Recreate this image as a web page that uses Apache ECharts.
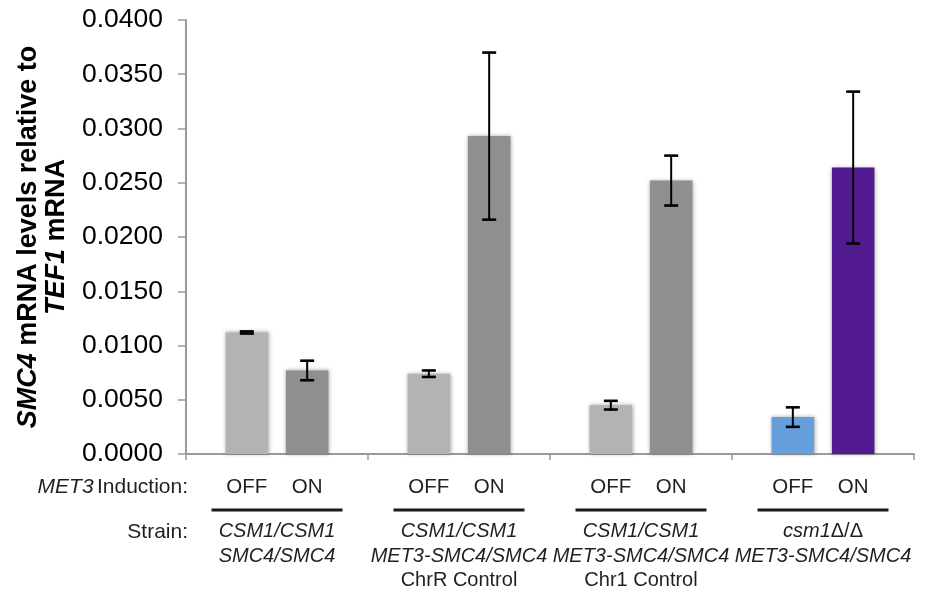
<!DOCTYPE html>
<html>
<head>
<meta charset="utf-8">
<script src="https://cdn.jsdelivr.net/npm/echarts@6/dist/echarts.min.js"></script>
<style>
  html, body { margin: 0; padding: 0; background: #ffffff; }
  #chart { width: 935px; height: 595px; }
</style>
</head>
<body>
<div id="chart"></div>
<script>
// ---- data ----
var groups = ['g1', 'g2', 'g3', 'g4'];
var inductionLabels = ['OFF', 'ON'];
var strainLines = [
  ['CSM1/CSM1', 'SMC4/SMC4'],
  ['CSM1/CSM1', 'MET3-SMC4/SMC4', 'ChrR Control'],
  ['CSM1/CSM1', 'MET3-SMC4/SMC4', 'Chr1 Control'],
  ['csm1\u0394/\u0394', 'MET3-SMC4/SMC4']
];
var offValues = [0.0112, 0.0074, 0.0045, 0.0034];
var offErrors = [0.0001, 0.0003, 0.0004, 0.0009];
var onValues  = [0.0077, 0.0293, 0.0252, 0.0264];
var onErrors  = [0.0009, 0.0077, 0.0023, 0.0070];
var yTicks = [0, 0.005, 0.01, 0.015, 0.02, 0.025, 0.03, 0.035, 0.04];

// ---- styles ----
var offColors = ['#b3b3b3', '#b3b3b3', '#b3b3b3', '#66a0dc'];
var onColors  = ['#8f8f8f', '#8f8f8f', '#8f8f8f', '#521b92'];
var FONT = '"Liberation Sans", Arial, Helvetica, sans-serif';
var TXT = '#231f20';
var BAR_W = 42.5;
var BAR_GAP = '42%';
var PITCH = BAR_W * 1.42;

var chart = echarts.init(document.getElementById('chart'), null, { renderer: 'canvas' });

function strainRich(line) {
  if (/Control$/.test(line)) return '{sn|' + line + '}';
  var m = line.match(/^(csm1)(.*)$/);
  if (m) return '{si|' + m[1] + '}{sn|' + m[2] + '}';
  return '{si|' + line + '}';
}

function errData(values, errors, side) {
  return values.map(function (v, i) { return [i, v, errors[i], side]; });
}

function renderErr(params, api) {
  var idx = api.value(0);
  var v = api.value(1);
  var e = api.value(2);
  var side = api.value(3);
  var c = api.coord([idx, v]);
  var x = c[0] + side * PITCH / 2;
  var top = api.coord([idx, v + e])[1];
  var bot = api.coord([idx, v - e])[1];
  var cap = 7;
  return {
    type: 'group',
    children: [
      { type: 'line', shape: { x1: x, y1: top, x2: x, y2: bot }, style: { stroke: '#000', lineWidth: 2 } },
      { type: 'line', shape: { x1: x - cap, y1: top, x2: x + cap, y2: top }, style: { stroke: '#000', lineWidth: 2.6 } },
      { type: 'line', shape: { x1: x - cap, y1: bot, x2: x + cap, y2: bot }, style: { stroke: '#000', lineWidth: 2.6 } }
    ]
  };
}

var option = {
  backgroundColor: '#ffffff',
  animation: false,
  textStyle: { fontFamily: FONT },
  grid: { left: 186, right: 21, top: 20, bottom: 141, containLabel: false },
  xAxis: {
    type: 'category',
    data: groups,
    axisLine: { show: true, lineStyle: { color: '#9a9a9a', width: 2 } },
    axisTick: { show: true, length: 6, lineStyle: { color: '#9a9a9a', width: 1.5 } },
    axisLabel: {
      interval: 0,
      margin: 19.5,
      color: TXT,
      fontFamily: FONT,
      formatter: function (val, i) {
        var s = '{off|' + inductionLabels[0] + '}{on|' + inductionLabels[1] + '}\n{rule| }';
        strainLines[i].forEach(function (l) { s += '\n' + strainRich(l); });
        return s;
      },
      rich: {
        off:  { fontSize: 20.5, width: PITCH, align: 'center', lineHeight: 27, color: TXT, fontFamily: FONT },
        on:   { fontSize: 20.5, width: PITCH, align: 'center', lineHeight: 27, color: TXT, fontFamily: FONT },
        rule: { fontSize: 2, width: 131, height: 3, lineHeight: 19, backgroundColor: '#1a1a1a', color: 'rgba(0,0,0,0)' },
        si:   { fontSize: 20, fontStyle: 'italic', lineHeight: 24.5, color: TXT, fontFamily: FONT },
        sn:   { fontSize: 20, lineHeight: 24.5, color: TXT, fontFamily: FONT }
      }
    }
  },
  yAxis: {
    type: 'value',
    min: yTicks[0],
    max: yTicks[yTicks.length - 1],
    interval: yTicks[1] - yTicks[0],
    axisLine: { show: true, lineStyle: { color: '#9a9a9a', width: 2 } },
    axisTick: { show: true, length: 8, lineStyle: { color: '#9a9a9a', width: 1.5 } },
    splitLine: { show: false },
    axisLabel: {
      margin: 23,
      fontSize: 26.5,
      color: '#000',
      fontFamily: FONT,
      formatter: function (v) { return v.toFixed(4); }
    },
    name: '{bi|SMC4}{b| mRNA levels relative to}\n{bi|TEF1}{b| mRNA}',
    nameLocation: 'middle',
    nameRotate: 90,
    nameGap: 115,
    nameTextStyle: {
      align: 'center',
      rich: {
        b:  { fontSize: 27, fontWeight: 'bold', lineHeight: 28, color: '#000', fontFamily: FONT },
        bi: { fontSize: 27, fontWeight: 'bold', fontStyle: 'italic', lineHeight: 28, color: '#000', fontFamily: FONT }
      }
    }
  },
  series: [
    {
      name: inductionLabels[0],
      type: 'bar',
      barWidth: BAR_W,
      barGap: BAR_GAP,
      data: offValues.map(function (v, i) { return { value: v, itemStyle: { color: offColors[i] } }; }),
      itemStyle: { shadowBlur: 4, shadowColor: 'rgba(0,0,0,0.35)', shadowOffsetX: 0.5, shadowOffsetY: 0 }
    },
    {
      name: inductionLabels[1],
      type: 'bar',
      barWidth: BAR_W,
      barGap: BAR_GAP,
      data: onValues.map(function (v, i) { return { value: v, itemStyle: { color: onColors[i] } }; }),
      itemStyle: { shadowBlur: 4, shadowColor: 'rgba(0,0,0,0.35)', shadowOffsetX: 0.5, shadowOffsetY: 0 }
    },
    {
      type: 'custom',
      renderItem: renderErr,
      data: errData(offValues, offErrors, -1),
      z: 10,
      clip: false
    },
    {
      type: 'custom',
      renderItem: renderErr,
      data: errData(onValues, onErrors, 1),
      z: 10,
      clip: false
    }
  ],
  graphic: [
    {
      type: 'text',
      x: 188, y: 487,
      style: {
        text: '{i|MET3} {n|Induction:}',
        align: 'right',
        verticalAlign: 'middle',
        rich: {
          i: { fontSize: 21, fontStyle: 'italic', fill: TXT, fontFamily: FONT },
          n: { fontSize: 21, fill: TXT, fontFamily: FONT }
        }
      }
    },
    {
      type: 'text',
      x: 188, y: 532,
      style: {
        text: 'Strain:',
        align: 'right',
        verticalAlign: 'middle',
        fontSize: 21,
        fill: TXT,
        fontFamily: FONT
      }
    }
  ]
};

chart.setOption(option);
</script>
</body>
</html>
